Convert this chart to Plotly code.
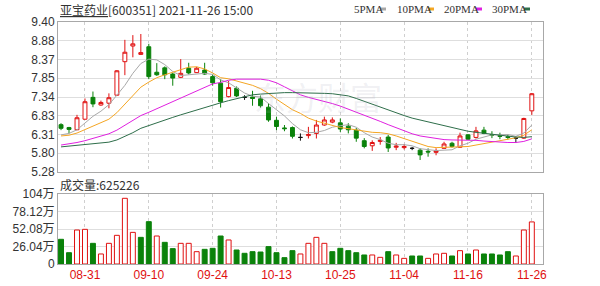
import plotly.graph_objects as go

# ---------------- data ----------------
dates = ["08-26", "08-27", "08-30", "08-31",
         "09-01", "09-02", "09-03", "09-06", "09-07", "09-08", "09-09", "09-10",
         "09-13", "09-14", "09-15", "09-16", "09-17", "09-22", "09-23", "09-24",
         "09-27", "09-28", "09-29", "09-30",
         "10-08", "10-11", "10-12", "10-13", "10-14", "10-15", "10-18", "10-19",
         "10-20", "10-21", "10-22", "10-25", "10-26", "10-27", "10-28", "10-29",
         "11-01", "11-02", "11-03", "11-04", "11-05", "11-08", "11-09", "11-10",
         "11-11", "11-12", "11-15", "11-16", "11-17", "11-18", "11-19", "11-22",
         "11-23", "11-24", "11-25", "11-26"]

opens = [6.58, 6.50, 6.44, 6.73, 7.33, 7.12, 7.17, 7.39, 8.31, 8.74,
         8.51, 8.72, 8.02, 8.14, 7.97, 7.88, 8.13, 8.01, 8.08, 7.90,
         7.72, 7.35, 7.58, 7.33, 7.34, 7.29, 7.06, 6.70, 6.49, 6.50,
         6.23, 6.28, 6.34, 6.57, 6.65, 6.63, 6.54, 6.43, 6.14, 6.00,
         6.12, 6.24, 5.96, 5.95, 5.93, 5.88, 5.85, 5.82, 5.93, 6.07,
         5.96, 6.30, 6.23, 6.43, 6.31, 6.28, 6.25, 6.21, 6.21, 6.96]
highs = [6.62, 6.52, 6.85, 7.30, 7.49, 7.24, 7.44, 8.08, 8.91, 9.04,
         9.07, 8.80, 8.27, 8.18, 8.00, 8.38, 8.28, 8.17, 8.28, 7.96,
         7.83, 7.78, 7.63, 7.39, 7.51, 7.38, 7.17, 6.80, 6.57, 6.53,
         6.34, 6.52, 6.71, 6.80, 6.78, 6.75, 6.62, 6.49, 6.21, 6.15,
         6.24, 6.30, 6.08, 6.05, 5.97, 5.93, 5.93, 5.93, 6.11, 6.11,
         6.36, 6.32, 6.52, 6.52, 6.40, 6.36, 6.31, 6.26, 6.77, 7.45]
lows = [6.43, 6.34, 6.43, 6.72, 7.06, 7.10, 7.03, 7.37, 7.94, 8.43,
        8.50, 7.83, 7.92, 7.83, 7.65, 7.86, 7.96, 8.00, 7.95, 7.65,
        7.05, 7.33, 7.34, 7.26, 7.10, 7.05, 6.66, 6.43, 6.40, 6.20,
        6.14, 6.20, 6.20, 6.55, 6.62, 6.38, 6.34, 6.11, 5.93, 5.86,
        6.03, 5.83, 5.88, 5.90, 5.88, 5.61, 5.70, 5.74, 5.92, 5.95,
        5.94, 6.16, 6.20, 6.32, 6.21, 6.18, 6.17, 6.08, 6.19, 6.85]
closes = [6.48, 6.45, 6.77, 7.21, 7.15, 7.19, 7.32, 8.06, 8.57, 8.80,
          8.56, 7.90, 7.95, 7.95, 7.86, 7.99, 8.00, 8.13, 7.97, 7.73,
          7.21, 7.60, 7.37, 7.33, 7.30, 7.10, 6.71, 6.53, 6.47, 6.26,
          6.23, 6.31, 6.57, 6.71, 6.71, 6.46, 6.44, 6.21, 5.98, 6.09,
          6.15, 5.94, 5.99, 5.98, 5.93, 5.75, 5.83, 5.86, 6.05, 5.98,
          6.27, 6.18, 6.41, 6.34, 6.29, 6.26, 6.23, 6.21, 6.75, 7.43]

volumes = [367000, 168000, 505000, 515000, 307000, 149000, 307000, 426000, 976000, 470000,
           396000, 629000, 416000, 322000, 228000, 307000, 307000, 183000, 218000, 233000,
           416000, 357000, 208000, 159000, 183000, 178000, 258000, 168000, 94000, 198000,
           149000, 307000, 396000, 307000, 183000, 233000, 198000, 168000, 134000, 134000,
           99000, 183000, 134000, 84000, 119000, 119000, 84000, 149000, 159000, 119000,
           198000, 149000, 208000, 149000, 149000, 134000, 183000, 119000, 505000, 625226]
vol_up = [0, 0, 1, 1, 0, 1, 1, 1, 1, 1,
          0, 0, 1, 0, 0, 1, 1, 1, 0, 0,
          0, 1, 0, 0, 0, 0, 0, 0, 0, 0,
          1, 1, 1, 1, 0, 0, 0, 0, 0, 1,
          1, 0, 1, 1, 0, 0, 1, 1, 1, 0,
          1, 0, 1, 0, 0, 0, 0, 1, 1, 1]

ma5 = [6.30, 6.34, 6.44, 6.63, 6.81, 6.95, 7.13, 7.39, 7.66, 7.99,
       8.26, 8.38, 8.36, 8.23, 8.04, 7.93, 7.95, 7.99, 7.99, 7.96,
       7.81, 7.73, 7.58, 7.45, 7.36, 7.34, 7.16, 6.99, 6.82, 6.61,
       6.44, 6.36, 6.37, 6.42, 6.51, 6.55, 6.58, 6.51, 6.36, 6.24,
       6.17, 6.07, 6.03, 6.03, 6.00, 5.92, 5.89, 5.87, 5.88, 5.89,
       6.00, 6.07, 6.18, 6.24, 6.30, 6.30, 6.31, 6.26, 6.35, 6.57]
ma10 = [6.27, 6.29, 6.35, 6.44, 6.53, 6.63, 6.73, 6.91, 7.15, 7.40,
        7.61, 7.75, 7.87, 7.95, 8.02, 8.10, 8.16, 8.17, 8.11, 8.00,
        7.87, 7.84, 7.78, 7.72, 7.66, 7.57, 7.44, 7.28, 7.13, 6.99,
        6.89, 6.76, 6.68, 6.62, 6.56, 6.50, 6.47, 6.44, 6.39, 6.37,
        6.36, 6.33, 6.27, 6.20, 6.12, 6.05, 5.98, 5.95, 5.96, 5.95,
        5.96, 5.98, 6.02, 6.06, 6.10, 6.15, 6.19, 6.22, 6.29, 6.44]
ma20 = [6.02, 6.05, 6.09, 6.14, 6.20, 6.26, 6.33, 6.43, 6.56, 6.70,
        6.83, 6.92, 7.02, 7.12, 7.21, 7.31, 7.41, 7.52, 7.62, 7.70,
        7.74, 7.80, 7.83, 7.83, 7.84, 7.83, 7.80, 7.73, 7.62, 7.50,
        7.40, 7.33, 7.28, 7.22, 7.16, 7.09, 7.01, 6.93, 6.83, 6.75,
        6.67, 6.58, 6.49, 6.41, 6.33, 6.27, 6.23, 6.19, 6.17, 6.16,
        6.16, 6.15, 6.15, 6.13, 6.11, 6.10, 6.09, 6.09, 6.12, 6.19]
ma30 = [5.97, 5.99, 6.01, 6.03, 6.05, 6.08, 6.10, 6.16, 6.25, 6.36,
        6.48, 6.56, 6.63, 6.71, 6.78, 6.85, 6.92, 6.99, 7.05, 7.12,
        7.18, 7.24, 7.30, 7.35, 7.40, 7.42, 7.44, 7.45, 7.46, 7.46,
        7.46, 7.46, 7.45, 7.44, 7.43, 7.41, 7.37, 7.30, 7.22, 7.13,
        7.06, 6.98, 6.90, 6.83, 6.76, 6.71, 6.66, 6.60, 6.54, 6.49,
        6.44, 6.40, 6.37, 6.34, 6.31, 6.28, 6.26, 6.24, 6.23, 6.25]

price_ticks = ["5.28", "5.80", "6.31", "6.83", "7.34", "7.85", "8.37", "8.88", "9.40"]
vol_ticks = ["0", "26.04万", "52.08万", "78.12万", "104万"]
x_tick_labels = ["08-31", "09-10", "09-24", "10-13", "10-25", "11-04", "11-16", "11-26"]
legend_names = ["5PMA", "10PMA", "20PMA", "30PMA"]
title_text = "<u>亚宝药业</u>[600351] 2021-11-26 15:00"
vol_label = "成交量:625226"

# ---------------- style ----------------
RED = "#e01010"
GREEN = "#0a820a"
MA_COLORS = ["#a8a8a8", "#f5a623", "#e020e0", "#2e6e4a"]
FONT = "Liberation Sans, Noto Sans CJK SC, sans-serif"
W, H = 600, 286
ML, MR, MT, MB = 58, 57, 22, 22
PW, PH = W - ML - MR, H - MT - MB


def px(x):
    return (x - ML) / PW


def py(y):
    return (H - MB - y) / PH


pmin, pmax = float(price_ticks[0]), float(price_ticks[-1])
price_tickvals = [pmin + k * (pmax - pmin) / (len(price_ticks) - 1) for k in range(len(price_ticks))]
vmax = 1040000
vol_tickvals = [k * vmax / (len(vol_ticks) - 1) for k in range(len(vol_ticks))]

normal = [i for i in range(len(dates)) if opens[i] != closes[i]]
doji = [i for i in range(len(dates)) if opens[i] == closes[i]]


def pick(arr, idx):
    return [arr[i] for i in idx]


fig = go.Figure()

fig.add_trace(go.Candlestick(
    x=pick(dates, normal), open=pick(opens, normal), high=pick(highs, normal),
    low=pick(lows, normal), close=pick(closes, normal),
    increasing=dict(line=dict(color=RED, width=1), fillcolor="white"),
    decreasing=dict(line=dict(color=GREEN, width=1), fillcolor=GREEN),
    whiskerwidth=0, xaxis="x", yaxis="y", showlegend=False, hoverinfo="skip"))
fig.add_trace(go.Candlestick(
    x=pick(dates, doji), open=pick(opens, doji), high=pick(highs, doji),
    low=pick(lows, doji), close=pick(closes, doji),
    increasing=dict(line=dict(color="#111111", width=1), fillcolor="#111111"),
    decreasing=dict(line=dict(color="#111111", width=1), fillcolor="#111111"),
    whiskerwidth=0, xaxis="x", yaxis="y", showlegend=False, hoverinfo="skip"))

for vals, col in zip([ma5, ma10, ma20, ma30], MA_COLORS):
    fig.add_trace(go.Scatter(x=dates, y=vals, mode="lines",
                             line=dict(color=col, width=1), xaxis="x", yaxis="y",
                             showlegend=False, hoverinfo="skip"))

fig.add_trace(go.Bar(
    x=dates, y=volumes, width=0.62,
    marker=dict(color=["white" if u else GREEN for u in vol_up],
                line=dict(color=[RED if u else GREEN for u in vol_up], width=1)),
    xaxis="x2", yaxis="y2", showlegend=False, hoverinfo="skip"))

axis_common = dict(type="category", categoryorder="array", categoryarray=dates,
                   range=[-0.38, 60.4], tickvals=x_tick_labels, showgrid=True,
                   gridcolor="#cfcfcf", griddash="dot", gridwidth=1,
                   showline=True, mirror=True, linecolor="#a8a8a8", linewidth=1,
                   zeroline=False, fixedrange=True, ticks="")

fig.update_layout(
    width=W, height=H,
    margin=dict(l=ML, r=MR, t=MT, b=MB, autoexpand=False),
    paper_bgcolor="white", plot_bgcolor="white",
    font=dict(family=FONT, size=12, color="#333333"),
    xaxis=dict(domain=[0, 1], anchor="y", showticklabels=False,
               rangeslider=dict(visible=False), **axis_common),
    xaxis2=dict(domain=[0, 1], anchor="y2", showticklabels=True,
                ticktext=x_tick_labels,
                tickfont=dict(color=RED, size=12, family=FONT), **axis_common),
    yaxis=dict(domain=[py(172), 1], range=[pmin, pmax], tickvals=price_tickvals,
               ticktext=price_ticks, showgrid=True, gridcolor="#dedede",
               showline=True, mirror=True, linecolor="#a8a8a8", zeroline=False,
               fixedrange=True, ticks="", tickfont=dict(size=12, color="#333333")),
    yaxis2=dict(domain=[0, py(194)], range=[0, vmax], tickvals=vol_tickvals,
                ticktext=vol_ticks, showgrid=True, gridcolor="#dedede",
                showline=True, mirror=True, linecolor="#a8a8a8", zeroline=False,
                fixedrange=True, ticks="", tickfont=dict(size=12, color="#333333")),
    bargap=0.3,
)

ann = []
ann.append(dict(text=title_text, x=px(58), y=py(9), xref="paper", yref="paper",
                xanchor="left", yanchor="middle", showarrow=False,
                font=dict(size=12, color="#333333", family="Noto Sans CJK SC")))
ann.append(dict(text=vol_label, x=px(58), y=py(184), xref="paper", yref="paper",
                xanchor="left", yanchor="middle", showarrow=False,
                font=dict(size=12, color="#333333", family="Noto Sans CJK SC")))
ann.append(dict(text="东方财富", x=px(318), y=py(96), xref="paper", yref="paper",
                xanchor="center", yanchor="middle", showarrow=False,
                font=dict(size=32, color="rgba(170,170,190,0.18)", family="Noto Sans CJK SC")))

shapes = []
leg_x = [352, 395, 442, 490]
leg_dash = [380, 428, 476, 524]
for name, lx, dx, col in zip(legend_names, leg_x, leg_dash, MA_COLORS):
    ann.append(dict(text=name, x=px(lx), y=py(9), xref="paper", yref="paper",
                    xanchor="left", yanchor="middle", showarrow=False,
                    font=dict(size=11, color="#333333", family="Liberation Serif")))
    shapes.append(dict(type="line", xref="paper", yref="paper",
                       x0=px(dx), x1=px(dx + 6), y0=py(9), y1=py(9),
                       line=dict(color=col, width=3)))

fig.update_layout(annotations=ann, shapes=shapes)

fig.write_html("out.html")
